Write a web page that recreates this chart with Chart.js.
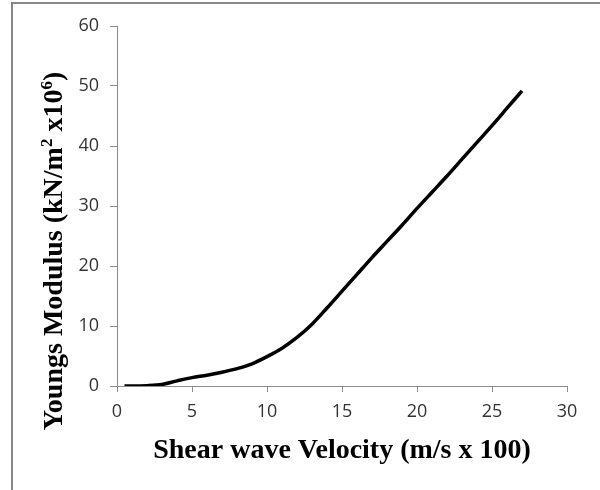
<!DOCTYPE html>
<html>
<head>
<meta charset="utf-8">
<script src="https://cdn.jsdelivr.net/npm/chart.js@4"></script>
<style>
  html, body { margin: 0; padding: 0; background: #fff; }
</style>
</head>
<body>
<canvas id="myChart" width="600" height="490"></canvas>
<script>
'use strict';

// shear wave velocity (m/s x 100)
const velocity = [0.5, 1, 2, 3, 4, 5, 6, 7, 8, 9, 10, 11, 12, 13, 14, 15, 16, 17, 18, 19, 20, 21, 22, 23, 24, 25, 26, 27];
// youngs modulus (kN/m2 x10^6)
const modulus = [0, 0, 0.05, 0.25, 0.85, 1.4, 1.8, 2.3, 2.9, 3.7, 4.9, 6.3, 8.1, 10.3, 13.0, 15.8, 18.6, 21.4, 24.1, 26.8, 29.6, 32.3, 35.0, 37.8, 40.6, 43.4, 46.3, 49.2];

const xTicks = [0, 5, 10, 15, 20, 25, 30];
const yTicks = [0, 10, 20, 30, 40, 50, 60];

const xTitle = 'Shear wave Velocity (m/s x 100)';
// y title pieces: [text, superscript?]
const yTitle = [['Youngs Modulus (kN/m', false], ['2', true], [' x10', false], ['6', true], [')', false]];

const serif = '"Liberation Serif", "Times New Roman", serif';
const axisGrey = '#8c8c8c';
const tickFont = { family: '"Open Sans", sans-serif', size: 18 };

// grey frame + rotated y title with superscripts
const framePlugin = {
  id: 'frame',
  beforeDraw(chart) {
    const c = chart.ctx;
    c.save();
    c.fillStyle = '#fff';
    c.fillRect(0, 0, chart.width, chart.height);
    c.strokeStyle = '#878787';
    c.lineWidth = 2;
    c.strokeRect(12, 3, chart.width, chart.height);
    c.restore();
  },
  afterDraw(chart) {
    const c = chart.ctx;
    const big = 'bold 28px ' + serif;
    const small = 'bold 17px ' + serif;
    c.save();
    let total = 0;
    yTitle.forEach(([t, sup]) => {
      c.font = sup ? small : big;
      total += c.measureText(t).width;
    });
    c.translate(62, 251);
    c.rotate(-Math.PI / 2);
    c.fillStyle = '#000';
    c.textBaseline = 'alphabetic';
    let x = -total / 2;
    yTitle.forEach(([t, sup]) => {
      c.font = sup ? small : big;
      c.fillText(t, x, sup ? -10 : 0);
      x += c.measureText(t).width;
    });
    c.restore();
  }
};

const ctx = document.getElementById('myChart');

new Chart(ctx, {
  type: 'line',
  data: {
    datasets: [{
      data: velocity.map((v, i) => ({ x: v, y: modulus[i] })),
      borderColor: '#000',
      borderWidth: 3.5,
      pointRadius: 0,
      fill: false,
      cubicInterpolationMode: 'monotone'
    }]
  },
  options: {
    responsive: false,
    animation: false,
    devicePixelRatio: 1,
    layout: { padding: { left: 0, top: 26, right: 33, bottom: 0 } },
    plugins: {
      legend: { display: false },
      tooltip: { enabled: false }
    },
    scales: {
      x: {
        type: 'linear',
        min: 0,
        max: 30,
        afterBuildTicks: s => { s.ticks = xTicks.map(v => ({ value: v })); },
        afterFit: s => { s.height = 104; },
        ticks: { color: '#333', font: tickFont, padding: 9, maxRotation: 0 },
        grid: { drawOnChartArea: false, tickLength: 6, color: axisGrey },
        border: { color: axisGrey, width: 1 }
        ,
        title: {
          display: true,
          text: xTitle,
          color: '#000',
          font: { family: serif, size: 28, weight: 'bold' },
          padding: { top: 0, bottom: 22 }
        }
      },
      y: {
        min: 0,
        max: 60,
        afterBuildTicks: s => { s.ticks = yTicks.map(v => ({ value: v })); },
        afterFit: s => { s.width = 117; },
        ticks: { color: '#333', font: tickFont, padding: 11 },
        grid: { drawOnChartArea: false, tickLength: 7, color: axisGrey },
        border: { color: axisGrey, width: 1 }
      }
    }
  },
  plugins: [framePlugin]
});
</script>
</body>
</html>
